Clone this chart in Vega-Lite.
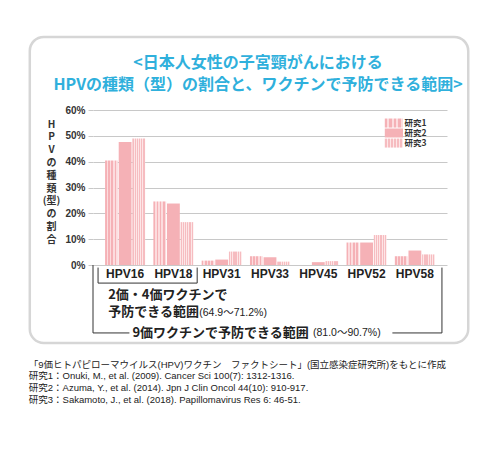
{
  "$schema": "https://vega.github.io/schema/vega-lite/v6.json",
  "width": 354,
  "height": 155,
  "autosize": {"type": "none"},
  "padding": {"left": 93, "top": 110, "right": 53, "bottom": 209},
  "background": "white",
  "config": {"view": {"stroke": null}, "font": "Noto Sans CJK JP"},
  "title": {
    "text": ["<日本人女性の子宮頸がんにおける", "HPVの種類（型）の割合と、ワクチンで予防できる範囲>"],
    "frame": "group",
    "anchor": "middle",
    "dx": -12,
    "offset": -57,
    "fontSize": 16,
    "lineHeight": 21.5,
    "fontWeight": "bold",
    "color": "#2fb0dc",
    "font": "Noto Sans CJK JP"
  },
  "datasets": {
    "hpv": [
      {"type": "HPV16", "study": "研究1", "value": 40.5},
      {"type": "HPV16", "study": "研究2", "value": 47.6},
      {"type": "HPV16", "study": "研究3", "value": 49.0},
      {"type": "HPV18", "study": "研究1", "value": 24.6},
      {"type": "HPV18", "study": "研究2", "value": 23.8},
      {"type": "HPV18", "study": "研究3", "value": 16.6},
      {"type": "HPV31", "study": "研究1", "value": 1.7},
      {"type": "HPV31", "study": "研究2", "value": 2.1},
      {"type": "HPV31", "study": "研究3", "value": 5.2},
      {"type": "HPV33", "study": "研究1", "value": 3.4},
      {"type": "HPV33", "study": "研究2", "value": 3.0},
      {"type": "HPV33", "study": "研究3", "value": 1.3},
      {"type": "HPV45", "study": "研究1", "value": 0},
      {"type": "HPV45", "study": "研究2", "value": 1.1},
      {"type": "HPV45", "study": "研究3", "value": 1.5},
      {"type": "HPV52", "study": "研究1", "value": 8.7},
      {"type": "HPV52", "study": "研究2", "value": 8.7},
      {"type": "HPV52", "study": "研究3", "value": 11.6},
      {"type": "HPV58", "study": "研究1", "value": 3.4},
      {"type": "HPV58", "study": "研究2", "value": 5.6},
      {"type": "HPV58", "study": "研究3", "value": 4.1}
    ]
  },
  "layer": [
    {
      "data": {"name": "hpv"},
      "mark": {"type": "bar"},
      "encoding": {
        "x": {
          "field": "type", "type": "nominal", "sort": null,
          "scale": {"paddingInner": 0.17, "paddingOuter": 0.25},
          "axis": {
            "title": null, "labelAngle": 0, "labelFont": "Liberation Sans", "labelFontWeight": "bold",
            "labelFontSize": 12, "labelColor": "#222", "ticks": false, "domain": false, "labelPadding": 3, "grid": false
          }
        },
        "xOffset": {"field": "study", "type": "nominal", "sort": ["研究1", "研究2", "研究3"], "scale": {"paddingInner": 0.06}},
        "y": {
          "field": "value", "type": "quantitative",
          "scale": {"domain": [0, 60], "nice": false},
          "axis": {
            "title": ["H", "P", "V", "の", "種", "類", "(型)", "の", "割", "合"],
            "titleAngle": 0, "titleX": -42, "titleY": 9, "titleAlign": "center", "titleBaseline": "top",
            "titleLineHeight": 12.8, "titleFontSize": 10, "titleFont": "Noto Sans CJK JP", "titleFontWeight": "bold", "titleColor": "#333",
            "values": [0, 10, 20, 30, 40, 50, 60],
            "labelExpr": "datum.value + '%'",
            "labelFont": "Liberation Sans", "labelFontWeight": "bold", "labelFontSize": 10, "labelColor": "#333",
            "tickSize": 5, "tickColor": "#c8c8c8", "domain": false, "grid": true, "gridColor": "#c8c8c8", "labelPadding": 3
          }
        },
        "fill": {
          "condition": [
            {"test": "datum.study === '研究1'", "value": {"gradient": "linear", "x1": 0, "y1": 0, "x2": 1, "y2": 0, "stops": [
              {"offset": 0, "color": "#f5b1b6"}, {"offset": 0.13, "color": "#f5b1b6"},
              {"offset": 0.13, "color": "#fcdcde"}, {"offset": 0.25, "color": "#fcdcde"},
              {"offset": 0.25, "color": "#f5b1b6"}, {"offset": 0.38, "color": "#f5b1b6"},
              {"offset": 0.38, "color": "#fcdcde"}, {"offset": 0.5, "color": "#fcdcde"},
              {"offset": 0.5, "color": "#f5b1b6"}, {"offset": 0.63, "color": "#f5b1b6"},
              {"offset": 0.63, "color": "#fcdcde"}, {"offset": 0.75, "color": "#fcdcde"},
              {"offset": 0.75, "color": "#f5b1b6"}, {"offset": 0.88, "color": "#f5b1b6"},
              {"offset": 0.88, "color": "#fcdcde"}, {"offset": 1, "color": "#fcdcde"}
            ]}},
            {"test": "datum.study === '研究3'", "value": {"gradient": "linear", "x1": 0, "y1": 0, "x2": 1, "y2": 0, "stops": [
              {"offset": 0, "color": "#f6bcc0"}, {"offset": 0.1, "color": "#f6bcc0"},
              {"offset": 0.1, "color": "#fde6e7"}, {"offset": 0.17, "color": "#fde6e7"},
              {"offset": 0.17, "color": "#f6bcc0"}, {"offset": 0.27, "color": "#f6bcc0"},
              {"offset": 0.27, "color": "#fde6e7"}, {"offset": 0.34, "color": "#fde6e7"},
              {"offset": 0.34, "color": "#f6bcc0"}, {"offset": 0.44, "color": "#f6bcc0"},
              {"offset": 0.44, "color": "#fde6e7"}, {"offset": 0.51, "color": "#fde6e7"},
              {"offset": 0.51, "color": "#f6bcc0"}, {"offset": 0.61, "color": "#f6bcc0"},
              {"offset": 0.61, "color": "#fde6e7"}, {"offset": 0.68, "color": "#fde6e7"},
              {"offset": 0.68, "color": "#f6bcc0"}, {"offset": 0.78, "color": "#f6bcc0"},
              {"offset": 0.78, "color": "#fde6e7"}, {"offset": 0.85, "color": "#fde6e7"},
              {"offset": 0.85, "color": "#f6bcc0"}, {"offset": 0.95, "color": "#f6bcc0"},
              {"offset": 0.95, "color": "#fde6e7"}, {"offset": 1, "color": "#fde6e7"}
            ]}}
          ],
          "value": "#f5b1b6"
        }
      }
    },
    {
      "data": {"values": [{}]},
      "mark": {"type": "rect", "cornerRadius": 14, "fill": null, "stroke": "#d6d6d6", "strokeWidth": 2.5},
      "encoding": {
        "x": {"datum": -1.25, "type": "quantitative", "scale": {"domain": [0, 7], "nice": false, "zero": false}, "axis": null},
        "x2": {"datum": 7.42},
        "y": {"datum": 88.3, "type": "quantitative", "scale": {"domain": [0, 60], "nice": false}, "axis": null},
        "y2": {"datum": -30.2}
      }
    },
    {
      "data": {"values": [{}]},
      "mark": {"type": "rect", "fill": {"gradient": "linear", "x1": 0, "y1": 0, "x2": 1, "y2": 0, "stops": [
        {"offset": 0, "color": "#f5b1b6"}, {"offset": 0.13, "color": "#f5b1b6"},
        {"offset": 0.13, "color": "#fcdcde"}, {"offset": 0.25, "color": "#fcdcde"},
        {"offset": 0.25, "color": "#f5b1b6"}, {"offset": 0.38, "color": "#f5b1b6"},
        {"offset": 0.38, "color": "#fcdcde"}, {"offset": 0.5, "color": "#fcdcde"},
        {"offset": 0.5, "color": "#f5b1b6"}, {"offset": 0.63, "color": "#f5b1b6"},
        {"offset": 0.63, "color": "#fcdcde"}, {"offset": 0.75, "color": "#fcdcde"},
        {"offset": 0.75, "color": "#f5b1b6"}, {"offset": 0.88, "color": "#f5b1b6"},
        {"offset": 0.88, "color": "#fcdcde"}, {"offset": 1, "color": "#fcdcde"}
      ]}},
      "encoding": {
        "x": {"datum": 5.77, "type": "quantitative", "scale": {"domain": [0, 7], "nice": false, "zero": false}, "axis": null},
        "x2": {"datum": 6.13},
        "y": {"datum": 56.7, "type": "quantitative", "scale": {"domain": [0, 60], "nice": false}, "axis": null},
        "y2": {"datum": 53.2}
      }
    },
    {
      "data": {"values": [{}]},
      "mark": {"type": "rect", "fill": "#f5b1b6"},
      "encoding": {
        "x": {"datum": 5.77, "type": "quantitative", "scale": {"domain": [0, 7], "nice": false, "zero": false}, "axis": null},
        "x2": {"datum": 6.13},
        "y": {"datum": 52.84, "type": "quantitative", "scale": {"domain": [0, 60], "nice": false}, "axis": null},
        "y2": {"datum": 49.36}
      }
    },
    {
      "data": {"values": [{}]},
      "mark": {"type": "rect", "fill": {"gradient": "linear", "x1": 0, "y1": 0, "x2": 1, "y2": 0, "stops": [
        {"offset": 0, "color": "#f6bcc0"}, {"offset": 0.1, "color": "#f6bcc0"},
        {"offset": 0.1, "color": "#fde6e7"}, {"offset": 0.17, "color": "#fde6e7"},
        {"offset": 0.17, "color": "#f6bcc0"}, {"offset": 0.27, "color": "#f6bcc0"},
        {"offset": 0.27, "color": "#fde6e7"}, {"offset": 0.34, "color": "#fde6e7"},
        {"offset": 0.34, "color": "#f6bcc0"}, {"offset": 0.44, "color": "#f6bcc0"},
        {"offset": 0.44, "color": "#fde6e7"}, {"offset": 0.51, "color": "#fde6e7"},
        {"offset": 0.51, "color": "#f6bcc0"}, {"offset": 0.61, "color": "#f6bcc0"},
        {"offset": 0.61, "color": "#fde6e7"}, {"offset": 0.68, "color": "#fde6e7"},
        {"offset": 0.68, "color": "#f6bcc0"}, {"offset": 0.78, "color": "#f6bcc0"},
        {"offset": 0.78, "color": "#fde6e7"}, {"offset": 0.85, "color": "#fde6e7"},
        {"offset": 0.85, "color": "#f6bcc0"}, {"offset": 0.95, "color": "#f6bcc0"},
        {"offset": 0.95, "color": "#fde6e7"}, {"offset": 1, "color": "#fde6e7"}
      ]}},
      "encoding": {
        "x": {"datum": 5.77, "type": "quantitative", "scale": {"domain": [0, 7], "nice": false, "zero": false}, "axis": null},
        "x2": {"datum": 6.13},
        "y": {"datum": 48.94, "type": "quantitative", "scale": {"domain": [0, 60], "nice": false}, "axis": null},
        "y2": {"datum": 45.46}
      }
    },
    {
      "data": {"values": [{}]},
      "mark": {"type": "text", "align": "left", "baseline": "middle", "font": "Noto Sans CJK JP", "fontWeight": "bold", "fontSize": 8.5, "color": "#333", "text": "研究1"},
      "encoding": {
        "x": {"datum": 6.16, "type": "quantitative", "scale": {"domain": [0, 7], "nice": false, "zero": false}, "axis": null},
        "y": {"datum": 54.97, "type": "quantitative", "scale": {"domain": [0, 60], "nice": false}, "axis": null}
      }
    },
    {
      "data": {"values": [{}]},
      "mark": {"type": "text", "align": "left", "baseline": "middle", "font": "Noto Sans CJK JP", "fontWeight": "bold", "fontSize": 8.5, "color": "#333", "text": "研究2"},
      "encoding": {
        "x": {"datum": 6.16, "type": "quantitative", "scale": {"domain": [0, 7], "nice": false, "zero": false}, "axis": null},
        "y": {"datum": 51.1, "type": "quantitative", "scale": {"domain": [0, 60], "nice": false}, "axis": null}
      }
    },
    {
      "data": {"values": [{}]},
      "mark": {"type": "text", "align": "left", "baseline": "middle", "font": "Noto Sans CJK JP", "fontWeight": "bold", "fontSize": 8.5, "color": "#333", "text": "研究3"},
      "encoding": {
        "x": {"datum": 6.16, "type": "quantitative", "scale": {"domain": [0, 7], "nice": false, "zero": false}, "axis": null},
        "y": {"datum": 47.2, "type": "quantitative", "scale": {"domain": [0, 60], "nice": false}, "axis": null}
      }
    },
    {
      "data": {"values": [{}]},
      "mark": {"type": "rule", "stroke": "#333", "strokeWidth": 1},
      "encoding": {
        "x": {"datum": 0.1, "type": "quantitative", "scale": {"domain": [0, 7], "nice": false, "zero": false}, "axis": null},
        "y": {"datum": -1, "type": "quantitative", "scale": {"domain": [0, 60], "nice": false}, "axis": null},
        "y2": {"datum": -7}
      }
    },
    {
      "data": {"values": [{}]},
      "mark": {"type": "rule", "stroke": "#333", "strokeWidth": 1},
      "encoding": {
        "x": {"datum": 0.1, "type": "quantitative", "scale": {"domain": [0, 7], "nice": false, "zero": false}, "axis": null},
        "x2": {"datum": 2.06},
        "y": {"datum": -7, "type": "quantitative", "scale": {"domain": [0, 60], "nice": false}, "axis": null}
      }
    },
    {
      "data": {"values": [{}]},
      "mark": {"type": "rule", "stroke": "#333", "strokeWidth": 1},
      "encoding": {
        "x": {"datum": 2.06, "type": "quantitative", "scale": {"domain": [0, 7], "nice": false, "zero": false}, "axis": null},
        "y": {"datum": -1, "type": "quantitative", "scale": {"domain": [0, 60], "nice": false}, "axis": null},
        "y2": {"datum": -7}
      }
    },
    {
      "data": {"values": [{}]},
      "mark": {"type": "rule", "stroke": "#333", "strokeWidth": 1},
      "encoding": {
        "x": {"datum": 0, "type": "quantitative", "scale": {"domain": [0, 7], "nice": false, "zero": false}, "axis": null},
        "y": {"datum": 0, "type": "quantitative", "scale": {"domain": [0, 60], "nice": false}, "axis": null},
        "y2": {"datum": -26.3}
      }
    },
    {
      "data": {"values": [{}]},
      "mark": {"type": "rule", "stroke": "#333", "strokeWidth": 1},
      "encoding": {
        "x": {"datum": 0, "type": "quantitative", "scale": {"domain": [0, 7], "nice": false, "zero": false}, "axis": null},
        "x2": {"datum": 0.72},
        "y": {"datum": -26.3, "type": "quantitative", "scale": {"domain": [0, 60], "nice": false}, "axis": null}
      }
    },
    {
      "data": {"values": [{}]},
      "mark": {"type": "rule", "stroke": "#333", "strokeWidth": 1},
      "encoding": {
        "x": {"datum": 5.92, "type": "quantitative", "scale": {"domain": [0, 7], "nice": false, "zero": false}, "axis": null},
        "x2": {"datum": 6.9},
        "y": {"datum": -26.3, "type": "quantitative", "scale": {"domain": [0, 60], "nice": false}, "axis": null}
      }
    },
    {
      "data": {"values": [{}]},
      "mark": {"type": "rule", "stroke": "#333", "strokeWidth": 1},
      "encoding": {
        "x": {"datum": 6.9, "type": "quantitative", "scale": {"domain": [0, 7], "nice": false, "zero": false}, "axis": null},
        "y": {"datum": -1, "type": "quantitative", "scale": {"domain": [0, 60], "nice": false}, "axis": null},
        "y2": {"datum": -26.3}
      }
    },
    {
      "data": {"values": [{}]},
      "mark": {"type": "text", "align": "left", "baseline": "middle", "font": "Noto Sans CJK JP", "fontWeight": "bold", "fontSize": 13, "color": "#222", "text": "2価・4価ワクチンで"},
      "encoding": {
        "x": {"datum": 0.3, "type": "quantitative", "scale": {"domain": [0, 7], "nice": false, "zero": false}, "axis": null},
        "y": {"datum": -11.6, "type": "quantitative", "scale": {"domain": [0, 60], "nice": false}, "axis": null}
      }
    },
    {
      "data": {"values": [{}]},
      "mark": {"type": "text", "align": "left", "baseline": "middle", "font": "Noto Sans CJK JP", "fontWeight": "bold", "fontSize": 13, "color": "#222", "text": "予防できる範囲"},
      "encoding": {
        "x": {"datum": 0.3, "type": "quantitative", "scale": {"domain": [0, 7], "nice": false, "zero": false}, "axis": null},
        "y": {"datum": -18.2, "type": "quantitative", "scale": {"domain": [0, 60], "nice": false}, "axis": null}
      }
    },
    {
      "data": {"values": [{}]},
      "mark": {"type": "text", "align": "left", "baseline": "middle", "font": "Liberation Sans, Noto Sans CJK JP", "fontSize": 10.5, "color": "#222", "text": "(64.9～71.2%)"},
      "encoding": {
        "x": {"datum": 2.1, "type": "quantitative", "scale": {"domain": [0, 7], "nice": false, "zero": false}, "axis": null},
        "y": {"datum": -18.4, "type": "quantitative", "scale": {"domain": [0, 60], "nice": false}, "axis": null}
      }
    },
    {
      "data": {"values": [{}]},
      "mark": {"type": "text", "align": "left", "baseline": "middle", "font": "Noto Sans CJK JP", "fontWeight": "bold", "fontSize": 13, "color": "#222", "text": "9価ワクチンで予防できる範囲"},
      "encoding": {
        "x": {"datum": 0.78, "type": "quantitative", "scale": {"domain": [0, 7], "nice": false, "zero": false}, "axis": null},
        "y": {"datum": -26.3, "type": "quantitative", "scale": {"domain": [0, 60], "nice": false}, "axis": null}
      }
    },
    {
      "data": {"values": [{}]},
      "mark": {"type": "text", "align": "left", "baseline": "middle", "font": "Liberation Sans, Noto Sans CJK JP", "fontSize": 10.5, "color": "#222", "text": "(81.0～90.7%)"},
      "encoding": {
        "x": {"datum": 4.35, "type": "quantitative", "scale": {"domain": [0, 7], "nice": false, "zero": false}, "axis": null},
        "y": {"datum": -26.4, "type": "quantitative", "scale": {"domain": [0, 60], "nice": false}, "axis": null}
      }
    },
    {
      "data": {"values": [{}]},
      "mark": {
        "type": "text", "align": "left", "baseline": "top", "font": "Liberation Sans, Noto Sans CJK JP", "fontSize": 9.5, "lineHeight": 11.7, "color": "#222",
        "text": [
          "「9価ヒトパピローマウイルス(HPV)ワクチン　ファクトシート」(国立感染症研究所)をもとに作成",
          "研究1：Onuki, M., et al. (2009). Cancer Sci 100(7): 1312-1316.",
          "研究2：Azuma, Y., et al. (2014).  Jpn J Clin Oncol 44(10): 910-917.",
          "研究3：Sakamoto, J., et al. (2018). Papillomavirus Res 6: 46-51."
        ]
      },
      "encoding": {
        "x": {"datum": -1.27, "type": "quantitative", "scale": {"domain": [0, 7], "nice": false, "zero": false}, "axis": null},
        "y": {"datum": -36.6, "type": "quantitative", "scale": {"domain": [0, 60], "nice": false}, "axis": null}
      }
    }
  ],
  "resolve": {"scale": {"x": "independent", "y": "independent"}}
}
